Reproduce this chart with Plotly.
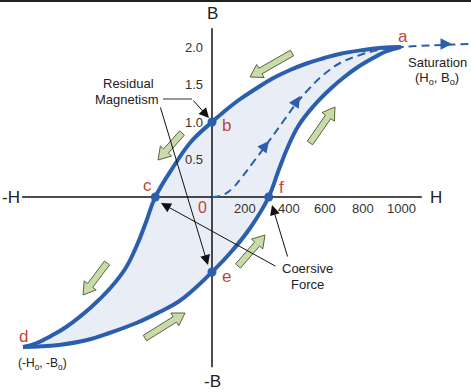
import math
import plotly.graph_objects as go

# ---------------- data ----------------
# upper (descending) branch of the hysteresis loop, listed by increasing H
upper_H = [-1000, -930, -850, -770, -640, -540, -460, -400, -350, -300, -200, -110, 0,
           60, 140, 230, 320, 410, 500, 590, 680, 800, 900, 1000]
upper_B = [-2.0, -1.95, -1.85, -1.73, -1.47, -1.22, -0.96, -0.66, -0.34, 0.0, 0.42, 0.74, 1.0,
           1.13, 1.29, 1.44, 1.58, 1.69, 1.78, 1.85, 1.91, 1.96, 1.99, 2.0]
# lower (ascending) branch
lower_H = [-1000, -900, -800, -650, -540, -400, -275, -180, -100, 0, 95, 200, 300,
           350, 400, 460, 540, 630, 700, 770, 850, 920, 1000]
lower_B = [-2.0, -1.99, -1.97, -1.90, -1.81, -1.68, -1.53, -1.40, -1.24, -1.0, -0.75, -0.42, 0.0,
           0.34, 0.66, 0.96, 1.22, 1.45, 1.60, 1.73, 1.85, 1.94, 2.0]
# initial magnetisation curve (dashed), continuing past saturation
init_H = [0, 60, 110, 160, 220, 300, 380, 450, 520, 590, 680, 780, 880, 1000, 1150, 1370]
init_B = [0, 0.03, 0.12, 0.27, 0.47, 0.74, 1.02, 1.26, 1.46, 1.63, 1.79, 1.89, 1.96, 2.0, 2.02, 2.04]

# marked points
pts_name = ["a", "b", "c", "d", "e", "f"]
pts_H = [1000, 0, -300, -1000, 0, 300]
pts_B = [2.0, 1.0, 0.0, -2.0, -1.0, 0.0]
dot_names = ["b", "c", "e", "f"]

# tick labels
tick_H = [200, 400, 600, 800, 1000]
tick_H_text = ["200", "400", "600", "800", "1000"]
tick_B = [0.5, 1.0, 1.5, 2.0]
tick_B_text = ["0.5", "1.0", "1.5", "2.0"]

# axis extents
H_axis = [-1005, 1110]
B_axis = [-2.27, 2.25]

# ---------------- layout helpers ----------------
W, HGT = 471, 392
X0, Y0 = 212, 197          # pixel location of the origin
SX, SY = 0.189, 75.0       # pixels per H unit, pixels per B unit


def d(px, py):
    return ((px - X0) / SX, (Y0 - py) / SY)


BLUE = "#2b5fae"
RED = "#c0453a"
FONT = "Liberation Sans, Arial, sans-serif"

fig = go.Figure()

# loop fill
fig.add_trace(go.Scatter(x=lower_H, y=lower_B, mode="lines",
                         line=dict(width=0, shape="spline", smoothing=1.2, color=BLUE),
                         hoverinfo="skip", showlegend=False))
fig.add_trace(go.Scatter(x=upper_H, y=upper_B, mode="lines",
                         line=dict(width=0, shape="spline", smoothing=1.2, color=BLUE),
                         fill="tonexty", fillcolor="#e9eef6",
                         hoverinfo="skip", showlegend=False))

# axes
fig.add_trace(go.Scatter(x=H_axis, y=[0, 0], mode="lines",
                         line=dict(color="#111", width=1.5), hoverinfo="skip", showlegend=False))
fig.add_trace(go.Scatter(x=[0, 0], y=B_axis, mode="lines",
                         line=dict(color="#111", width=1.5), hoverinfo="skip", showlegend=False))

# initial curve
fig.add_trace(go.Scatter(x=init_H, y=init_B, mode="lines",
                         line=dict(color=BLUE, width=2, dash="8px,5px", shape="spline", smoothing=1.2),
                         hoverinfo="skip", showlegend=False))

# loop lines
for hx, by in ((upper_H, upper_B), (lower_H, lower_B)):
    fig.add_trace(go.Scatter(x=hx, y=by, mode="lines",
                             line=dict(color=BLUE, width=4, shape="spline", smoothing=1.2),
                             hoverinfo="skip", showlegend=False))

# dots
dx = [pts_H[pts_name.index(n)] for n in dot_names]
dy = [pts_B[pts_name.index(n)] for n in dot_names]
fig.add_trace(go.Scatter(x=dx, y=dy, mode="markers",
                         marker=dict(color=BLUE, size=9), hoverinfo="skip", showlegend=False))

annotations = []


def txt(x, y, text, size=13, color="#222", xanchor="center", xshift=0, yshift=0):
    annotations.append(dict(x=x, y=y, xref="x", yref="y", text=text, showarrow=False,
                            font=dict(family=FONT, size=size, color=color),
                            xanchor=xanchor, yanchor="middle", xshift=xshift, yshift=yshift))


# point letters (pixel offsets from their point)
letter_off = {"a": (2, 11), "b": (14, -3), "c": (-8, 12), "d": (0, 11), "e": (14, -4), "f": (13, 10)}
for n, hx, by in zip(pts_name, pts_H, pts_B):
    ox, oy = letter_off[n]
    txt(hx, by, n, size=17, color=RED, xshift=ox, yshift=oy)
txt(0, 0, "0", size=16, color=RED, xshift=-10, yshift=-10)

# tick labels
h_shift = [-5, 1, 0, 0, 0]
for v, t, s in zip(tick_H, tick_H_text, h_shift):
    txt(v, 0, t, size=13, color="#333", xshift=s, yshift=-11)
for v, t in zip(tick_B, tick_B_text):
    txt(0, v, t, size=13, color="#333", xanchor="right", xshift=-7)

# axis titles
txt(*d(212, 13), "B", size=17)
txt(*d(212, 381), "-B", size=17)
txt(*d(11, 197), "-H", size=17)
txt(*d(436, 197), "H", size=17)

# descriptive labels
txt(*d(128, 83), "Residual", size=13)
txt(*d(127, 99), "Magnetism", size=13)
txt(*d(307, 268), "Coersive", size=13)
txt(*d(307, 284), "Force", size=13)
txt(*d(437, 62), "Saturation", size=13)
txt(*d(437, 78), "(H<sub>o</sub>, B<sub>o</sub>)", size=13)
txt(*d(42, 364), "(-H<sub>o</sub>, -B<sub>o</sub>)", size=12)


def arrow(tail, tip, color="#111", width=1, size=2.0, head=2):
    tx, ty = d(*tip)
    ax, ay = d(*tail)
    annotations.append(dict(x=tx, y=ty, ax=ax, ay=ay, xref="x", yref="y", axref="x", ayref="y",
                            text="", showarrow=True, arrowhead=head, arrowsize=size,
                            arrowwidth=width, arrowcolor=color, standoff=0))


# black pointer arrows
arrow((192, 99), (209, 118))
arrow((160, 106), (208, 265))
arrow((288, 258), (272, 205))
arrow((277, 267), (161, 203))

# arrowheads on the dashed initial curve
arrow((262, 150), (269, 141), color=BLUE, width=2, size=1.15)
arrow((295, 104), (300, 96), color=BLUE, width=2, size=1.15)
arrow((440, 44), (452, 44), color=BLUE, width=2, size=1.15)

shapes = []
# elbow segment of residual magnetism pointer
p1, p2 = d(163, 99), d(192, 99)
shapes.append(dict(type="line", xref="x", yref="y", x0=p1[0], y0=p1[1], x1=p2[0], y1=p2[1],
                   line=dict(color="#333", width=1)))

# green direction arrows (tail -> tip, pixels)
green = [((292, 53), (250, 77)), ((310, 143), (335, 107)), ((182, 133), (158, 160)),
         ((107, 263), (83, 295)), ((145, 338), (185, 313)), ((238, 266), (265, 235))]
for (x1, y1), (x2, y2) in green:
    L = math.hypot(x2 - x1, y2 - y1)
    ux, uy = (x2 - x1) / L, (y2 - y1) / L
    nx, ny = -uy, ux
    hw, hh, hl = 3.2, 7.5, 12
    cx, cy = x2 - ux * hl, y2 - uy * hl
    poly = [(x1 + nx * hw, y1 + ny * hw), (cx + nx * hw, cy + ny * hw), (cx + nx * hh, cy + ny * hh),
            (x2, y2), (cx - nx * hh, cy - ny * hh), (cx - nx * hw, cy - ny * hw),
            (x1 - nx * hw, y1 - ny * hw)]
    pd = [d(px, py) for px, py in poly]
    path = "M " + " L ".join(f"{a:.3f},{b:.4f}" for a, b in pd) + " Z"
    shapes.append(dict(type="path", xref="x", yref="y", path=path,
                       fillcolor="#cbdaab", line=dict(color="#55663c", width=1)))

# top border
shapes.append(dict(type="line", xref="paper", yref="paper", x0=0, x1=1,
                   y0=1 - 1 / HGT, y1=1 - 1 / HGT, line=dict(color="#222", width=2)))

xr = [d(0, 0)[0], d(W, 0)[0]]
yr = [d(0, HGT)[1], d(0, 0)[1]]

fig.update_layout(
    width=W, height=HGT, margin=dict(l=0, r=0, t=0, b=0),
    paper_bgcolor="white", plot_bgcolor="white",
    xaxis=dict(range=xr, visible=False, fixedrange=True),
    yaxis=dict(range=yr, visible=False, fixedrange=True),
    annotations=annotations, shapes=shapes, showlegend=False,
)

fig.write_html("out.html", config={"displayModeBar": False, "staticPlot": True},
               post_script="document.body.style.margin='0';document.body.style.padding='0';")
